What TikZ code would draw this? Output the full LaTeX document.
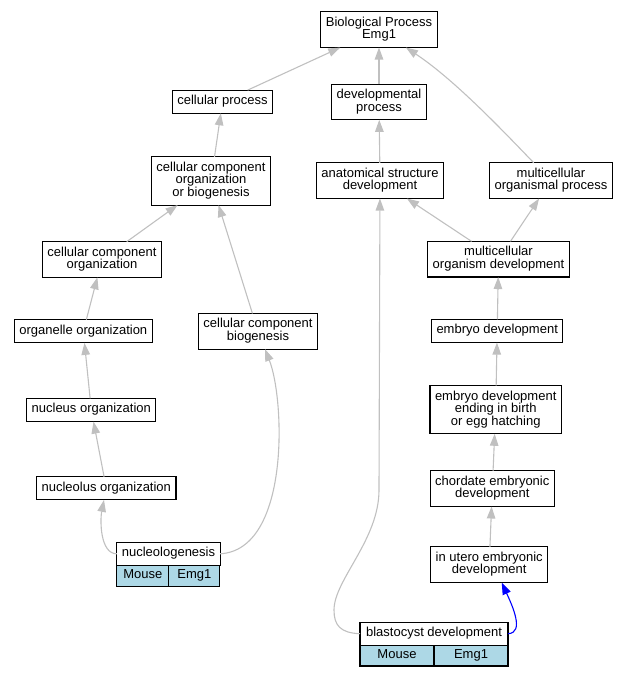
\documentclass[tikz,border=0pt]{standalone}
\usepackage{fontspec}
\setmainfont{Liberation Sans}
\usetikzlibrary{arrows.meta}
\definecolor{edgegray}{RGB}{192,192,192}
\definecolor{mouseblue}{RGB}{173,216,230}

\begin{document}
\begin{tikzpicture}[x=1pt, y=-1pt, >={Triangle[length=12pt,width=8.5pt]},
  term/.style={draw, fill=white, line width=1.1pt, align=center, inner xsep=5pt, inner ysep=5pt,
    outer sep=0pt, font=\fontsize{13}{12.5}\selectfont,
    execute at begin node=\strut, execute at end node=\strut},
  cell/.style={term, fill=mouseblue, inner ysep=4pt},
  link/.style={->, edgegray, line width=1.1pt}]
  \useasboundingbox (0,0) rectangle (628,677);
  % top: root and its children
  \node[term] (bp) at (379,29.7) {Biological Process\\Emg1};
  \node[term] (devproc) at (379,102) {developmental\\process};
  \node[term] (cellproc) at (222.5,101.7) {cellular process};
  \node[term] (asd) at (380,180.7) {anatomical structure\\development};
  \node[term] (mop) at (551,180.7) {multicellular\\organismal process};
  % left branch
  \node[term] (ccob) at (211,181) {cellular component\\organization\\or biogenesis};
  \node[term] (ccorg) at (102,259.5) {cellular component\\organization};
  \node[term] (organelle) at (83.3,331.3) {organelle organization};
  \node[term] (ccbio) at (258,331.3) {cellular component\\biogenesis};
  \node[term] (nucleus) at (91.3,410) {nucleus organization};
  \node[term] (nucleolus) at (106.3,488.3) {nucleolus organization};
  % right branch
  \node[term] (mod) at (498.5,259.2) {multicellular\\organism development};
  \node[term] (embryo) at (497.2,331) {embryo development};
  \node[term] (ending) at (495.7,409.7) {embryo development\\ending in birth\\or egg hatching};
  \node[term] (chordate) at (492.3,488.7) {chordate embryonic\\development};
  \node[term] (utero) at (489.2,564.7) {in utero embryonic\\development};
  % annotated genes
  \node[term, minimum width=103pt] (nucleo) at (168.5,553.8) {nucleologenesis};
  \node[cell, minimum width=52pt, anchor=north west] (nucleoMouse) at (nucleo.south west) {Mouse};
  \node[cell, minimum width=51pt, anchor=north west] (nucleoGene) at (nucleoMouse.north east) {Emg1};
  \node[term, minimum width=148pt] (blasto) at (434,633.7) {blastocyst development};
  \node[cell, minimum width=74pt, anchor=north west] (blastoMouse) at (blasto.south west) {Mouse};
  \node[cell, minimum width=74pt, anchor=north west] (blastoGene) at (blastoMouse.north east) {Emg1};
  % is_a links
  \draw[link] (devproc) -- (bp);
  \draw[link] (cellproc) -- (bp);
  \draw[link] (mop) .. controls (505,133) and (455,80) .. (bp);
  \draw[link] (asd) -- (devproc);
  \draw[link] (ccob) -- (cellproc);
  \draw[link] (mod) -- (asd);
  \draw[link] (mod) -- (mop);
  \draw[link] (ccorg) -- (ccob);
  \draw[link] (ccbio) -- (ccob);
  \draw[link] (organelle) -- (ccorg);
  \draw[link] (nucleus) -- (organelle);
  \draw[link] (nucleolus) -- (nucleus);
  \draw[link] (nucleo.west) .. controls (100,554) and (100,520) .. (nucleolus);
  \draw[link] (nucleo.east) .. controls (290,550) and (285,400) .. (ccbio);
  \draw[link] (embryo) -- (mod);
  \draw[link] (ending) -- (embryo);
  \draw[link] (chordate) -- (ending);
  \draw[link] (utero) -- (chordate);
  \draw[link] (blasto.west) .. controls (340,633) and (334,625) .. (334,610)
    .. controls (334,580) and (379,540) .. (379,490) -- (asd);
  % direct annotation
  \draw[link, blue] (blasto.east) .. controls (525,633) and (512,605) .. (utero.305);
\end{tikzpicture}
\end{document}
